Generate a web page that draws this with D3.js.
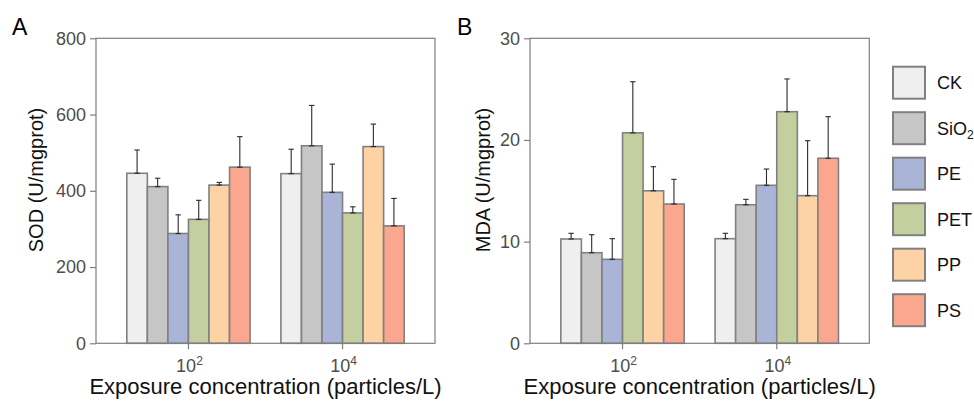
<!DOCTYPE html>
<html>
<head>
<meta charset="utf-8">
<script src="https://cdn.jsdelivr.net/npm/d3@7"></script>
<style>
  html, body { margin: 0; padding: 0; background: #fff; }
  svg { display: block; font-family: "Liberation Sans", Arial, sans-serif; }
</style>
</head>
<body>
<svg id="chart" width="974" height="401"></svg>
<script>
// ---- Data ----
const groups = ["1e2", "1e4"];
const groupBase = ["10", "10"];
const groupExp = ["2", "4"];
const series = ["CK", "SiO2", "PE", "PET", "PP", "PS"];
const seriesColors = ["#efefef", "#c6c6c6", "#a9b4d6", "#c3cf9f", "#fdd2a5", "#fba78f"];

const sodMean1e2 = [446, 411, 288, 325, 415, 462];
const sodSd1e2   = [61, 22, 49, 50, 7, 80];
const sodMean1e4 = [445, 518, 396, 342, 516, 308];
const sodSd1e4   = [64, 106, 74, 16, 59, 72];

const mdaMean1e2 = [10.26, 8.91, 8.26, 20.7, 15.0, 13.7];
const mdaSd1e2   = [0.56, 1.77, 2.03, 5.03, 2.37, 2.43];
const mdaMean1e4 = [10.29, 13.63, 15.54, 22.78, 14.52, 18.2];
const mdaSd1e4   = [0.53, 0.53, 1.6, 3.22, 5.41, 4.09];

const sodTicks = [0, 200, 400, 600, 800];
const mdaTicks = [0, 10, 20, 30];

const svg = d3.select("#chart");
const TOP = 38.3, BOTTOM = 343.3;
const tickColor = "#4d4d4d", boxColor = "#7f7f7f";

function panel(opts) {
  const { left, right, label, labelX, yMax, yTicks, means, sds, yTitle, yTitleX } = opts;
  const g = svg.append("g");
  const x = d3.scaleBand().domain(groups).range([left, right]).paddingInner(0.2).paddingOuter(0.2);
  const xs = d3.scaleBand().domain(series).range([0, x.bandwidth()]).padding(0);
  const y = d3.scaleLinear().domain([0, yMax]).range([BOTTOM, TOP]);

  const rows = [];
  groups.forEach((gr, gi) => series.forEach((s, si) => {
    rows.push({ group: gr, s, si, mean: means[gi][si], sd: sds[gi][si] });
  }));

  // bars
  g.selectAll("rect.bar").data(rows).join("rect")
    .attr("class", "bar")
    .attr("x", d => x(d.group) + xs(d.s))
    .attr("width", xs.bandwidth())
    .attr("y", d => y(d.mean))
    .attr("height", d => y(0) - y(d.mean))
    .attr("fill", d => seriesColors[d.si])
    .attr("stroke", "#808080")
    .attr("stroke-width", 1.6);

  // error bars
  const cap = 2.7;
  const eb = g.selectAll("g.err").data(rows).join("g").attr("class", "err")
    .attr("stroke", "#2b2b2b").attr("stroke-width", 1.1);
  eb.append("line")
    .attr("x1", d => x(d.group) + xs(d.s) + xs.bandwidth() / 2)
    .attr("x2", d => x(d.group) + xs(d.s) + xs.bandwidth() / 2)
    .attr("y1", d => y(d.mean)).attr("y2", d => y(d.mean + d.sd));
  eb.append("line")
    .attr("x1", d => x(d.group) + xs(d.s) + xs.bandwidth() / 2 - cap)
    .attr("x2", d => x(d.group) + xs(d.s) + xs.bandwidth() / 2 + cap)
    .attr("y1", d => y(d.mean + d.sd)).attr("y2", d => y(d.mean + d.sd));
  eb.append("line")
    .attr("x1", d => x(d.group) + xs(d.s) + xs.bandwidth() / 2 - cap)
    .attr("x2", d => x(d.group) + xs(d.s) + xs.bandwidth() / 2 + cap)
    .attr("y1", d => y(d.mean)).attr("y2", d => y(d.mean));

  // box
  g.append("rect").attr("x", left).attr("y", TOP)
    .attr("width", right - left).attr("height", BOTTOM - TOP)
    .attr("fill", "none").attr("stroke", boxColor).attr("stroke-width", 1.2);

  // y axis
  const ya = g.append("g").attr("transform", `translate(${left},0)`)
    .call(d3.axisLeft(y).tickValues(yTicks).tickSize(6).tickPadding(4));
  ya.select(".domain").remove();
  ya.selectAll(".tick line").attr("stroke", boxColor).attr("stroke-width", 1.2);
  ya.selectAll(".tick text").attr("fill", tickColor)
    .style("font-size", "18px").style("font-family", "Liberation Sans, Arial, sans-serif");

  // x axis
  const xa = g.append("g").attr("transform", `translate(0,${BOTTOM})`)
    .call(d3.axisBottom(x).tickSize(6).tickPadding(4).tickFormat(""));
  xa.select(".domain").remove();
  xa.selectAll(".tick line").attr("stroke", boxColor).attr("stroke-width", 1.2);
  xa.selectAll(".tick text").remove();
  groups.forEach((gr, gi) => {
    const t = g.append("text")
      .attr("x", x(gr) + x.bandwidth() / 2 + 1)
      .attr("y", 371.7)
      .attr("text-anchor", "middle")
      .attr("fill", tickColor)
      .style("font-size", "18px");
    t.append("tspan").text(groupBase[gi]);
    t.append("tspan").attr("dy", -7).style("font-size", "12px").text(groupExp[gi]);
  });

  // x title
  g.append("text")
    .attr("x", (left + right) / 2).attr("y", 394)
    .attr("text-anchor", "middle").attr("fill", "#111")
    .style("font-size", "22px")
    .text("Exposure concentration (particles/L)");

  // y title
  g.append("text")
    .attr("transform", `translate(${yTitleX},180) rotate(-90)`)
    .attr("text-anchor", "middle").attr("dy", "0.35em").attr("fill", "#111")
    .style("font-size", "20px")
    .text(yTitle);

  // panel label
  g.append("text").attr("x", labelX).attr("y", 35)
    .attr("fill", "#000").style("font-size", "23px").text(label);
}

panel({
  left: 96, right: 435, label: "A", labelX: 12, yMax: 800, yTicks: sodTicks,
  means: [sodMean1e2, sodMean1e4], sds: [sodSd1e2, sodSd1e4],
  yTitle: "SOD (U/mgprot)", yTitleX: 36
});
panel({
  left: 530, right: 869.3, label: "B", labelX: 457, yMax: 30, yTicks: mdaTicks,
  means: [mdaMean1e2, mdaMean1e4], sds: [mdaSd1e2, mdaSd1e4],
  yTitle: "MDA (U/mgprot)", yTitleX: 483
});

// legend
const legend = svg.append("g");
const legendY = d3.scaleBand().domain(series).range([66.7, 66.7 + 45.5 * 6]);
series.forEach((s, i) => {
  const yy = legendY(s);
  legend.append("rect").attr("x", 893).attr("y", yy).attr("width", 32).attr("height", 32)
    .attr("fill", seriesColors[i]).attr("stroke", "#808080").attr("stroke-width", 2);
  const t = legend.append("text").attr("x", 937).attr("y", yy + 16).attr("dy", "0.35em")
    .attr("fill", "#111").style("font-size", "18px");
  if (s === "SiO2") {
    t.append("tspan").text("SiO");
    t.append("tspan").attr("dy", 4).style("font-size", "12px").text("2");
  } else {
    t.text(s);
  }
});
</script>
</body>
</html>
